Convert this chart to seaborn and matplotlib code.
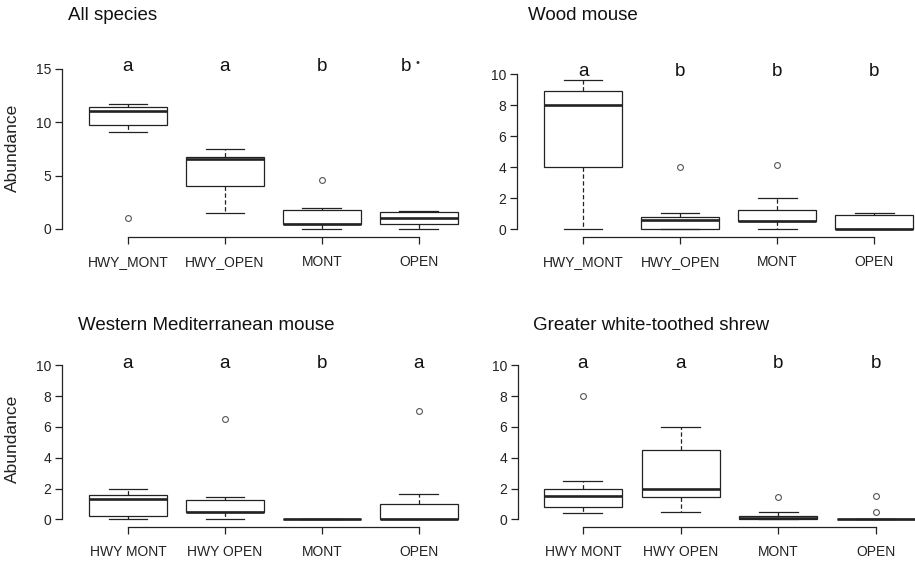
import matplotlib
matplotlib.use("Agg")
import matplotlib.pyplot as plt
import seaborn as sns
import pandas as pd

groups = ["HWY_MONT", "HWY_OPEN", "MONT", "OPEN"]
top_labels = ["HWY_MONT", "HWY_OPEN", "MONT", "OPEN"]
bottom_labels = ["HWY MONT", "HWY OPEN", "MONT", "OPEN"]

# five-number summaries: whisker low, Q1, median, Q3, whisker high
all_species = [[9.05, 9.77, 11.1, 11.4, 11.7],
               [1.5, 4.0, 6.55, 6.73, 7.5],
               [0.0, 0.5, 0.5, 1.75, 1.97],
               [0.0, 0.5, 1.06, 1.57, 1.66]]
wood_mouse = [[0.0, 4.0, 8.0, 8.92, 9.6],
              [0.0, 0.0, 0.56, 0.75, 1.03],
              [0.0, 0.54, 0.54, 1.25, 1.98],
              [0.0, 0.0, 0.03, 0.9, 1.01]]
med_mouse = [[0.0, 0.19, 1.3, 1.58, 1.97],
             [0.0, 0.5, 0.5, 1.25, 1.47],
             [0.0, 0.0, 0.0, 0.0, 0.0],
             [0.0, 0.0, 0.0, 0.97, 1.64]]
shrew = [[0.39, 0.82, 1.5, 1.97, 2.5],
         [0.5, 1.47, 2.0, 4.48, 6.0],
         [0.0, 0.0, 0.06, 0.22, 0.5],
         [0.0, 0.0, 0.0, 0.0, 0.0]]

# outliers (group, value)
all_species_out = [("HWY_MONT", 1.0), ("MONT", 4.57)]
wood_mouse_out = [("HWY_OPEN", 4.0), ("MONT", 4.16)]
med_mouse_out = [("HWY_OPEN", 6.5), ("OPEN", 7.02)]
shrew_out = [("HWY_MONT", 8.0), ("MONT", 1.47), ("OPEN", 1.5), ("OPEN", 0.5)]

letters_all = ["a", "a", "b", "b\u2022"]
letters_wood = ["a", "b", "b", "b"]
letters_med = ["a", "a", "b", "a"]
letters_shrew = ["a", "a", "b", "b"]

LINE = "#222222"
W, H = 915, 561

plt.rcParams["font.family"] = ["Liberation Sans", "DejaVu Sans"]
fig = plt.figure(figsize=(W / 100, H / 100), dpi=100)


def px_axes(left, right, bottom, top):
    return fig.add_axes([left / W, 1 - bottom / H, (right - left) / W, (bottom - top) / H])


def draw_panel(ax, summary, outliers, letters, title, title_xy, labels, ylim, xlim, yticks, ylabel):
    rows = [(g, v) for g, vals in zip(groups, summary) for v in vals]
    df = pd.DataFrame(rows, columns=["group", "value"])
    sns.boxplot(data=df, x="group", y="value", order=groups, whis=(0, 100),
                showfliers=False, width=0.8, color="white", linecolor=LINE,
                linewidth=0.9, medianprops=dict(linewidth=1.9, color=LINE),
                whiskerprops=dict(linestyle=(0, (3.5, 2))), ax=ax)
    odf = pd.DataFrame(outliers, columns=["group", "value"])
    sns.stripplot(data=odf, x="group", y="value", order=groups, jitter=False,
                  color="white", edgecolor="#555555", linewidth=0.8, size=4.2, ax=ax)
    ax.set_xlim(*xlim)
    ax.set_ylim(*ylim)
    ax.set_yticks(yticks)
    ax.set_yticklabels([str(t) for t in yticks])
    ax.set_xticks(range(len(groups)))
    ax.set_xticklabels(labels)
    for s in ["top", "right"]:
        ax.spines[s].set_visible(False)
    for s in ["left", "bottom"]:
        ax.spines[s].set_color(LINE)
        ax.spines[s].set_linewidth(0.9)
    ax.spines["left"].set_bounds(yticks[0], yticks[-1])
    ax.spines["bottom"].set_bounds(0, len(groups) - 1)
    ax.tick_params(axis="both", direction="out", length=5, width=0.9, color=LINE,
                   labelcolor=LINE, labelsize=10)
    ax.tick_params(axis="x", pad=8)
    ax.tick_params(axis="y", pad=3)
    ax.set_xlabel("")
    if ylabel:
        ax.set_ylabel("Abundance", fontsize=12.5, color=LINE, labelpad=11)
    else:
        ax.set_ylabel("")
    ymax = yticks[-1]
    for i, lt in enumerate(letters):
        if len(lt) > 1:
            # letter followed by a small marker dot
            ax.text(i - 0.13, ymax * 0.985, lt[0], ha="center", va="baseline",
                    fontsize=13.5, color="#111111")
            ax.text(i - 0.01, ymax * 1.037, lt[1:], ha="center", va="center",
                    fontsize=8, color="#333333")
        else:
            ax.text(i, ymax * 0.985, lt, ha="center", va="baseline", fontsize=13.5, color="#111111")
    fig.text(title_xy[0] / W, 1 - title_xy[1] / H, title, fontsize=13.5,
             color="#111111", ha="left", va="baseline")


ax1 = px_axes(62, 477, 237, 237 - 16.75 * 10.667)
draw_panel(ax1, all_species, all_species_out, letters_all, "All species", (68, 20),
           top_labels, (-0.75, 16), (-0.68, 3.6), [0, 5, 10, 15], True)

ax2 = px_axes(517, 915, 237, 237 - 11.516 * 15.5)
draw_panel(ax2, wood_mouse, wood_mouse_out, letters_wood, "Wood mouse", (528, 20),
           top_labels, (-0.516, 11), (-0.68, 3.42), [0, 2, 4, 6, 8, 10], False)

ax3 = px_axes(62, 477, 527, 527 - 11.5 * 15.4)
draw_panel(ax3, med_mouse, med_mouse_out, letters_med, "Western Mediterranean mouse", (78, 330),
           bottom_labels, (-0.5, 11), (-0.68, 3.6), [0, 2, 4, 6, 8, 10], True)

ax4 = px_axes(518, 915, 527, 527 - 11.5 * 15.4)
draw_panel(ax4, shrew, shrew_out, letters_shrew, "Greater white-toothed shrew", (533, 330),
           bottom_labels, (-0.5, 11), (-0.665, 3.4), [0, 2, 4, 6, 8, 10], False)

fig.savefig("out.png", dpi=100, facecolor="white")
